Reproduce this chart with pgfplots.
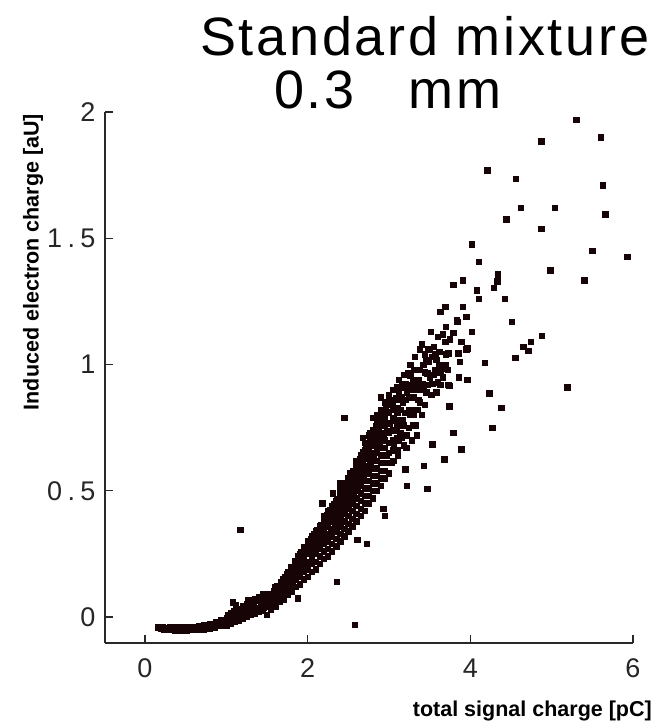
\documentclass[border=0pt]{standalone}
\usepackage{pgfplots}
\pgfplotsset{compat=1.18}
\usepackage{fontspec}
\setmainfont{Liberation Sans}
\newfontfamily\tickfont[LetterSpace=20]{Liberation Sans}
\newfontfamily\titlefont[LetterSpace=5]{Liberation Sans}
\definecolor{pt}{RGB}{22,4,6}
\definecolor{ax}{RGB}{40,40,40}
\pgfplotstableread{
x y
0.16 -0.040
0.20 -0.046
0.22 -0.040
0.24 -0.050
0.27 -0.044
0.30 -0.050
0.31 -0.040
0.34 -0.046
0.37 -0.052
0.38 -0.041
0.41 -0.047
0.44 -0.052
0.45 -0.041
0.48 -0.047
0.51 -0.052
0.52 -0.040
0.55 -0.046
0.58 -0.051
0.59 -0.039
0.62 -0.045
0.65 -0.050
0.66 -0.036
0.69 -0.043
0.72 -0.048
0.73 -0.032
0.76 -0.040
0.79 -0.045
0.80 -0.026
0.83 -0.034
0.86 -0.040
0.87 -0.020
0.90 -0.028
0.93 -0.034
0.94 -0.012
0.97 -0.020
1.00 -0.026
1.01 -0.004
1.04 -0.012
1.07 -0.018
1.08 0.006
1.08 0.058
1.11 -0.002
1.14 -0.008
1.14 0.018
1.12 0.048
1.17 0.008
1.20 0.002
1.21 0.030
1.24 0.018
1.27 0.010
1.27 0.042
1.27 0.066
1.30 0.028
1.33 0.020
1.34 0.052
1.37 0.036
1.40 0.028
1.40 0.064
1.43 0.046
1.45 0.090
1.46 0.038
1.47 0.076
1.50 0.056
1.52 0.044
1.53 0.088
1.56 0.066
1.58 0.054
1.59 0.102
1.62 0.078
1.62 0.124
1.64 0.064
1.65 0.094
1.67 0.140
1.68 0.110
1.70 0.080
1.71 0.126
1.72 0.160
1.74 0.098
1.75 0.142
1.76 0.180
1.78 0.118
1.79 0.160
1.80 0.200
1.81 0.136
1.83 0.176
1.84 0.222
1.85 0.150
1.87 0.196
1.88 0.075
1.88 0.240
1.89 0.166
1.91 0.214
1.92 0.258
1.93 0.184
1.95 0.232
1.96 0.276
1.97 0.200
1.99 0.250
2.00 0.292
2.01 0.218
2.03 0.268
2.04 0.310
2.05 0.236
2.07 0.288
2.08 0.328
2.09 0.254
2.11 0.306
2.12 0.346
2.13 0.272
2.15 0.326
2.16 0.366
2.17 0.290
2.18 0.450
2.19 0.346
2.20 0.386
2.21 0.308
2.23 0.364
2.24 0.406
2.25 0.328
2.27 0.384
2.28 0.426
2.29 0.346
2.31 0.404
2.31 0.490
2.32 0.446
2.33 0.366
2.35 0.424
2.36 0.140
2.36 0.466
2.37 0.386
2.39 0.444
2.40 0.530
2.40 0.488
2.41 0.406
2.43 0.464
2.44 0.510
2.45 0.426
2.45 0.790
2.47 0.486
2.48 0.532
2.49 0.448
2.51 0.508
2.52 0.570
2.52 0.554
2.53 0.470
2.55 0.530
2.56 0.578
2.57 0.492
2.58 -0.030
2.59 0.554
2.60 0.602
2.61 0.305
2.61 0.514
2.63 0.578
2.64 0.626
2.65 0.538
2.67 0.602
2.68 0.652
2.68 0.710
2.69 0.562
2.71 0.628
2.72 0.678
2.73 0.586
2.73 0.290
2.75 0.654
2.76 0.704
2.76 0.730
2.77 0.610
2.79 0.680
2.80 0.790
2.80 0.730
2.81 0.636
2.83 0.706
2.84 0.756
2.85 0.660
2.87 0.734
2.88 0.782
2.89 0.686
2.90 0.870
2.91 0.760
2.92 0.808
2.93 0.430
2.93 0.712
2.95 0.400
2.95 0.788
2.96 0.834
2.97 0.640
2.98 0.738
2.99 0.814
3.00 0.858
3.01 0.850
3.01 0.766
3.03 0.612
3.04 0.840
3.05 0.900
3.05 0.790
3.06 0.680
3.08 0.866
3.09 0.740
3.10 0.830
3.11 0.640
3.12 0.890
3.13 0.780
3.15 0.710
3.17 0.780
3.17 0.850
3.19 0.910
3.20 0.810
3.20 0.925
3.21 0.670
3.22 0.520
3.20 0.585
3.23 0.966
3.24 0.750
3.25 0.870
3.26 0.958
3.28 0.820
3.28 0.920
3.30 0.870
3.31 0.980
3.33 0.760
3.34 0.900
3.36 0.940
3.38 1.060
3.38 0.850
3.41 0.925
3.42 1.000
3.43 0.600
3.44 1.040
3.46 0.890
3.47 0.966
3.47 0.507
3.49 1.010
3.51 1.130
3.53 1.030
3.53 0.925
3.53 0.685
3.56 0.980
3.60 1.110
3.63 0.970
3.64 0.985
3.63 0.920
3.68 0.625
3.69 1.090
3.69 1.000
3.69 1.230
3.63 1.210
3.73 1.045
3.73 0.920
3.74 0.835
3.74 0.915
3.79 1.125
3.79 1.315
3.79 0.730
3.83 1.176
3.84 1.170
3.85 1.045
3.86 0.950
3.87 1.010
3.89 1.090
3.89 0.665
3.91 1.334
3.91 1.228
3.95 1.060
3.95 1.190
3.96 0.940
3.96 1.065
4.02 1.477
4.02 1.130
4.08 1.295
4.10 1.406
4.10 1.260
4.18 1.006
4.21 1.770
4.23 0.887
4.27 0.750
4.29 1.303
4.33 1.330
4.34 1.358
4.38 0.830
4.42 1.260
4.44 1.576
4.51 1.170
4.55 1.026
4.56 1.735
4.62 1.620
4.65 1.070
4.71 1.055
4.74 1.090
4.87 1.885
4.87 1.537
4.88 1.113
4.98 1.374
5.04 1.620
5.19 0.910
5.30 1.970
5.40 1.334
5.50 1.450
5.60 1.900
5.63 1.710
5.66 1.596
5.93 1.426
1.17 0.345
}\scatterA
\pgfplotstableread{
x y
1.00 -0.032
1.02 0.010
1.05 -0.026
1.06 0.018
1.10 -0.018
1.10 0.026
1.15 -0.012
1.16 0.034
1.20 -0.005
1.20 0.042
1.25 0.000
1.25 0.052
1.30 0.008
1.30 0.060
1.35 0.014
1.35 0.070
1.40 0.020
1.40 0.080
1.45 0.026
1.45 0.060
1.50 0.010
1.50 0.040
1.50 0.070
1.50 0.090
1.55 0.030
1.55 0.060
1.55 0.090
1.60 0.040
1.60 0.070
1.60 0.100
1.60 0.120
1.65 0.060
1.65 0.090
1.65 0.120
1.70 0.070
1.70 0.100
1.70 0.130
1.70 0.150
1.75 0.090
1.75 0.120
1.75 0.150
1.75 0.170
1.80 0.100
1.80 0.130
1.80 0.160
1.80 0.190
1.85 0.120
1.85 0.150
1.85 0.180
1.85 0.210
1.90 0.130
1.90 0.160
1.90 0.190
1.90 0.220
1.90 0.250
1.95 0.150
1.95 0.180
1.95 0.210
1.95 0.240
1.95 0.270
2.00 0.160
2.00 0.190
2.00 0.220
2.00 0.250
2.00 0.280
2.00 0.300
2.05 0.180
2.05 0.210
2.05 0.240
2.05 0.270
2.05 0.300
2.05 0.320
2.10 0.190
2.10 0.220
2.10 0.250
2.10 0.280
2.10 0.310
2.10 0.340
2.15 0.210
2.15 0.240
2.15 0.270
2.15 0.300
2.15 0.330
2.15 0.360
2.20 0.230
2.20 0.260
2.20 0.290
2.20 0.320
2.20 0.350
2.20 0.380
2.20 0.400
2.25 0.240
2.25 0.270
2.25 0.300
2.25 0.330
2.25 0.360
2.25 0.390
2.25 0.420
2.30 0.260
2.30 0.290
2.30 0.320
2.30 0.350
2.30 0.380
2.30 0.410
2.30 0.440
2.35 0.280
2.35 0.310
2.35 0.340
2.35 0.370
2.35 0.400
2.35 0.430
2.35 0.460
2.40 0.300
2.40 0.330
2.40 0.360
2.40 0.390
2.40 0.420
2.40 0.450
2.40 0.480
2.40 0.510
2.45 0.320
2.45 0.350
2.45 0.380
2.45 0.410
2.45 0.440
2.45 0.470
2.45 0.500
2.45 0.530
2.50 0.340
2.50 0.370
2.50 0.400
2.50 0.430
2.50 0.460
2.50 0.490
2.50 0.520
2.50 0.550
2.55 0.360
2.55 0.390
2.55 0.420
2.55 0.450
2.55 0.480
2.55 0.510
2.55 0.540
2.55 0.570
2.60 0.380
2.60 0.410
2.60 0.440
2.60 0.470
2.60 0.500
2.60 0.530
2.60 0.560
2.60 0.590
2.60 0.620
2.65 0.400
2.65 0.430
2.65 0.460
2.65 0.490
2.65 0.520
2.65 0.550
2.65 0.580
2.65 0.610
2.65 0.640
2.70 0.420
2.70 0.450
2.70 0.480
2.70 0.510
2.70 0.540
2.70 0.570
2.70 0.600
2.70 0.630
2.70 0.660
2.70 0.690
2.75 0.450
2.75 0.480
2.75 0.510
2.75 0.540
2.75 0.570
2.75 0.600
2.75 0.630
2.75 0.660
2.75 0.690
2.75 0.720
2.80 0.470
2.80 0.500
2.80 0.530
2.80 0.560
2.80 0.590
2.80 0.620
2.80 0.650
2.80 0.680
2.80 0.710
2.80 0.740
2.85 0.500
2.85 0.530
2.85 0.560
2.85 0.590
2.85 0.620
2.85 0.650
2.85 0.680
2.85 0.710
2.85 0.740
2.85 0.770
2.85 0.800
2.90 0.520
2.90 0.550
2.90 0.580
2.90 0.610
2.90 0.640
2.90 0.670
2.90 0.700
2.90 0.730
2.90 0.760
2.90 0.790
2.90 0.820
2.95 0.550
2.95 0.580
2.95 0.610
2.95 0.640
2.95 0.670
2.95 0.700
2.95 0.730
2.95 0.760
2.95 0.790
2.95 0.820
2.95 0.850
3.00 0.570
3.00 0.610
3.00 0.650
3.00 0.690
3.00 0.730
3.00 0.770
3.00 0.810
3.00 0.850
3.00 0.880
3.05 0.620
3.05 0.660
3.05 0.700
3.05 0.740
3.05 0.780
3.05 0.820
3.05 0.860
3.10 0.660
3.10 0.710
3.10 0.760
3.10 0.810
3.10 0.860
3.10 0.910
3.12 0.940
3.15 0.870
3.18 0.960
3.22 0.890
3.26 1.000
3.30 0.940
3.32 1.030
3.35 0.980
3.38 0.920
3.40 1.080
3.44 0.970
3.48 1.060
3.50 0.950
3.55 1.070
3.58 1.020
3.62 1.050
3.66 1.120
3.70 1.150
3.75 1.100
3.58 0.890
3.14 0.730
3.18 0.680
3.26 0.800
3.30 0.760
3.35 0.820
3.12 0.700
3.14 0.820
3.16 0.920
3.18 0.760
3.20 0.860
3.22 0.720
3.24 0.820
3.26 0.900
3.28 0.700
3.30 0.800
3.32 0.920
3.34 0.720
3.36 0.860
3.38 0.980
3.40 0.800
3.42 0.900
3.44 0.840
3.46 1.020
3.48 0.920
3.50 1.060
3.52 0.880
3.55 0.960
3.57 1.040
3.60 0.930
3.62 1.000
3.66 0.950
3.70 1.040
3.72 0.980
}\scatterB
\begin{document}
\begin{tikzpicture}[x=1pt,y=1pt]
\useasboundingbox (0,0) rectangle (659,725);
\begin{axis}[
  at={(105pt,82pt)}, anchor=south west,
  scale only axis, width=528pt, height=531pt,
  xmin=-0.49, xmax=6, ymin=-0.103, ymax=2,
  axis lines=left, axis line style={-, line width=1.6pt, color=ax},
  xtick={0,2,4,6}, ytick={0,0.5,1,1.5,2},
  tick align=inside, major tick length=8pt,
  tick style={line width=1.4pt, color=ax},
  /pgf/number format/assume math mode=true,
  xticklabel style={font=\tickfont\fontsize{27}{30}\selectfont, text=black!85, yshift=-12pt},
  yticklabel style={font=\tickfont\fontsize{27}{30}\selectfont, text=black!85, xshift=-6pt},
  clip=false,
]
\addplot[only marks, mark=square*, mark size=2.7pt, color=pt] table {\scatterA};
\addplot[only marks, mark=square*, mark size=2.7pt, color=pt] table {\scatterB};
\end{axis}
\node[anchor=base west, inner sep=0pt, font=\titlefont\fontsize{54}{60}\selectfont] at (200,669) {Standard mixture};
\node[anchor=base west, inner sep=0pt, font=\titlefont\fontsize{54}{60}\selectfont] at (274,616) {0.3\hspace{54pt}mm};
\node[anchor=center, rotate=90, inner sep=0pt, font=\bfseries\fontsize{21.5}{24}\selectfont] at (33,463) {Induced electron charge [aU]};
\node[anchor=base east, inner sep=0pt, font=\bfseries\fontsize{21.5}{24}\selectfont] at (652,9) {total signal charge [pC]};
\end{tikzpicture}
\end{document}
